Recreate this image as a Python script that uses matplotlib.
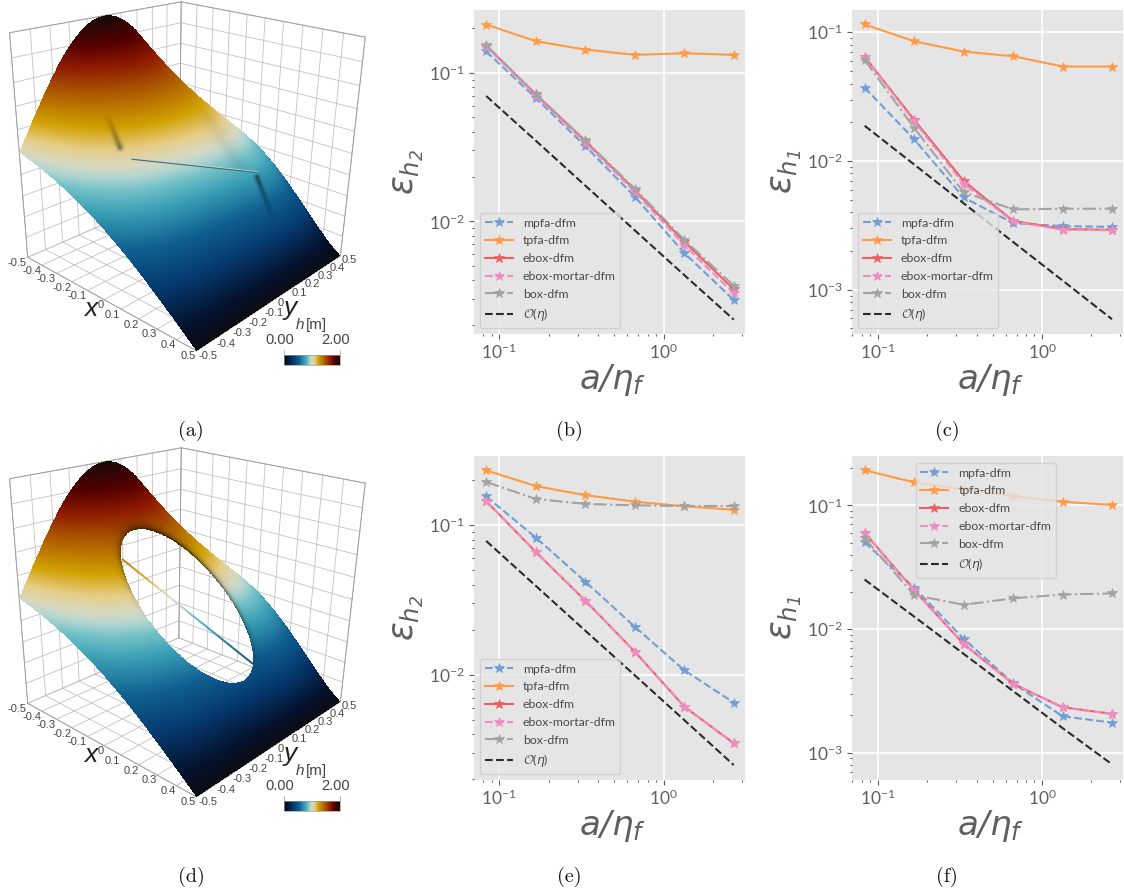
import numpy as np
import matplotlib
matplotlib.use("Agg")
import matplotlib.pyplot as plt
from matplotlib.colors import LinearSegmentedColormap
from matplotlib.collections import LineCollection
from matplotlib.ticker import LogLocator, NullFormatter

W, H = 1124, 893
plt.rcParams.update({
    "font.family": ["Lato", "DejaVu Sans"],
    "mathtext.fontset": "custom",
    "mathtext.rm": "DejaVu Sans:italic",
    "mathtext.it": "DejaVu Sans:italic",
    "mathtext.cal": "cmsy10",
    "mathtext.fallback": "cm",
    "axes.unicode_minus": True,
})

# ---------------- data ----------------
ratio = [0.0833, 0.1667, 0.3333, 0.6667, 1.3333, 2.6667]
methods = ["mpfa-dfm", "tpfa-dfm", "ebox-dfm", "ebox-mortar-dfm", "box-dfm"]
order_label = r"$\mathcal{O}\mathdefault{(}\eta\mathdefault{)}$"

b_mpfa = [0.139, 0.0676, 0.0321, 0.01466, 0.00612, 0.00296]
b_tpfa = [0.211, 0.163, 0.143, 0.132, 0.135, 0.132]
b_ebox = [0.152, 0.0715, 0.0347, 0.01626, 0.00729, 0.00349]
b_mortar = [0.150, 0.0700, 0.0338, 0.0158, 0.0069, 0.00328]
b_box = [0.153, 0.0718, 0.0351, 0.0166, 0.0075, 0.00369]
b_order = [0.0697, 0.0349, 0.0174, 0.0087, 0.00435, 0.00218]

c_mpfa = [0.0372, 0.01476, 0.00521, 0.00329, 0.00312, 0.00308]
c_tpfa = [0.115, 0.0852, 0.0708, 0.0652, 0.0542, 0.0542]
c_ebox = [0.0647, 0.0209, 0.00701, 0.00343, 0.00296, 0.00292]
c_mortar = [0.0640, 0.0203, 0.00666, 0.00339, 0.00292, 0.0029]
c_box = [0.0610, 0.0181, 0.00573, 0.00421, 0.00426, 0.00426]
c_order = [0.0188, 0.0094, 0.0047, 0.00235, 0.00118, 0.00059]

e_mpfa = [0.156, 0.0827, 0.042, 0.0209, 0.0107, 0.00649]
e_tpfa = [0.233, 0.183, 0.159, 0.144, 0.134, 0.127]
e_ebox = [0.145, 0.0663, 0.0313, 0.01426, 0.00611, 0.00347]
e_mortar = [0.145, 0.0663, 0.0313, 0.01426, 0.00611, 0.00347]
e_box = [0.195, 0.150, 0.139, 0.136, 0.1346, 0.1346]
e_order = [0.0785, 0.0393, 0.0197, 0.0099, 0.00496, 0.00248]

f_mpfa = [0.0502, 0.0216, 0.00835, 0.00364, 0.00197, 0.00175]
f_tpfa = [0.192, 0.1535, 0.1345, 0.1189, 0.107, 0.1006]
f_ebox = [0.0601, 0.0206, 0.00757, 0.00361, 0.00233, 0.00206]
f_mortar = [0.0595, 0.0205, 0.00752, 0.00361, 0.00232, 0.00205]
f_box = [0.0541, 0.0188, 0.0157, 0.0177, 0.019, 0.0194]
f_order = [0.0251, 0.0126, 0.0063, 0.00315, 0.00158, 0.000805]

# hydraulic head at a coarse set of nodes (row: x, column: y)
node_x = [-0.5, -0.25, 0.0, 0.25, 0.5]
node_y = [-0.5, -0.25, 0.0, 0.25, 0.5]
node_h = [[1.00, 1.70, 2.00, 1.70, 1.00],
          [0.87, 1.30, 1.50, 1.38, 0.95],
          [0.66, 0.92, 1.02, 1.02, 0.80],
          [0.36, 0.50, 0.55, 0.58, 0.42],
          [0.00, 0.00, 0.00, 0.00, 0.00]]

axis_ticks = [-0.5, -0.4, -0.3, -0.2, -0.1, 0, 0.1, 0.2, 0.3, 0.4, 0.5]

cmap_stops = [(0.00, "#0b0b12"), (0.06, "#04122e"), (0.17, "#053a70"), (0.27, "#0f5f90"),
              (0.37, "#3a9fb5"), (0.43, "#72c0c6"), (0.47, "#b5d6d0"), (0.50, "#d6d8c0"),
              (0.55, "#e6cd88"), (0.62, "#d0a000"), (0.72, "#b06000"), (0.82, "#901c00"),
              (0.90, "#560000"), (1.00, "#150a08")]

colors = {"mpfa-dfm": "#6f9fd4", "tpfa-dfm": "#ff9a45", "ebox-dfm": "#ee5f5f",
          "ebox-mortar-dfm": "#f08cc4", "box-dfm": "#a3a3a3"}
styles = {"mpfa-dfm": "--", "tpfa-dfm": "-", "ebox-dfm": "-",
          "ebox-mortar-dfm": "--", "box-dfm": "-."}
GREY = "#5f5f5f"

fig = plt.figure(figsize=(W / 100, H / 100), dpi=100, facecolor="white")

# ---------------- full-figure pixel axes for surfaces and captions ----------------
canvas = fig.add_axes([0, 0, 1, 1])
canvas.set_xlim(0, W)
canvas.set_ylim(H, 0)
canvas.axis("off")

cube_3d = np.array([[-.5, -.5, 0], [.5, -.5, 0], [.5, .5, 0], [-.5, .5, 0],
                    [-.5, -.5, 2], [-.5, .5, 2], [.5, .5, 2]], float)
cube_px = np.array([[27.3, 256.7], [197.3, 351.0], [340.0, 256.0], [179.0, 192.0],
                    [9.3, 33.3], [181.7, 1.7], [365.0, 36.7]])


def fit_camera(p3, p2):
    rows, rhs = [], []
    for (x, y, z), (u, v) in zip(p3, p2):
        rows.append([x, y, z, 1, 0, 0, 0, 0, -u * x, -u * y, -u * z])
        rows.append([0, 0, 0, 0, x, y, z, 1, -v * x, -v * y, -v * z])
        rhs += [u, v]
    s = np.linalg.lstsq(np.array(rows), np.array(rhs), rcond=None)[0]
    return np.append(s, 1).reshape(3, 4)


CAM = fit_camera(cube_3d, cube_px)


def project(x, y, z, dy=0.0):
    x, y, z = np.broadcast_arrays(np.asarray(x, float), np.asarray(y, float), np.asarray(z, float))
    w = CAM[2, 0] * x + CAM[2, 1] * y + CAM[2, 2] * z + CAM[2, 3]
    u = (CAM[0, 0] * x + CAM[0, 1] * y + CAM[0, 2] * z + CAM[0, 3]) / w
    v = (CAM[1, 0] * x + CAM[1, 1] * y + CAM[1, 2] * z + CAM[1, 3]) / w
    return u, v + dy


def node_surface(xs, ys):
    nx, ny = np.array(node_x), np.array(node_y)
    A = np.array([[nx[i] ** p * ny[j] ** q for p in range(5) for q in range(5)]
                  for i in range(5) for j in range(5)])
    c = np.linalg.lstsq(A, np.array(node_h).ravel(), rcond=None)[0].reshape(5, 5)
    out = np.zeros_like(xs)
    for p in range(5):
        for q in range(5):
            out += c[p, q] * xs ** p * ys ** q
    return out


cmap = LinearSegmentedColormap.from_list("head", cmap_stops, N=512)


def seg_dist(u, v, p, q):
    p, q = np.array(p, float), np.array(q, float)
    d = q - p
    t = np.clip(((u - p[0]) * d[0] + (v - p[1]) * d[1]) / (d @ d), 0, 1)
    return np.hypot(u - p[0] - t * d[0], v - p[1] - t * d[1]), t


def crease(u, v, p, q, strength, width, fade_to_q):
    dist, t = seg_dist(u, v, p, q)
    taper = (1 - t) if fade_to_q else t
    return 1 - strength * (0.15 + 0.85 * taper) * np.exp(-(dist / width) ** 2)


def draw_surface(dy, hole):
    n = 520
    xe = np.linspace(-.5, .5, n + 1)
    ye = np.linspace(.5, -.5, n + 1)
    XE, YE = np.meshgrid(xe, ye, indexing="ij")
    HE = node_surface(XE, YE)
    U, V = project(XE, YE, HE, dy)
    XC = .25 * (XE[:-1, :-1] + XE[1:, :-1] + XE[:-1, 1:] + XE[1:, 1:])
    YC = .25 * (YE[:-1, :-1] + YE[1:, :-1] + YE[:-1, 1:] + YE[1:, 1:])
    HC = node_surface(XC, YC)
    UC, VC = project(XC, YC, HC, 0.0)
    rgba = cmap(np.clip(HC / 2, 0, 1))
    shade = np.ones_like(HC)
    if hole:
        sxx, syy, sxy = 39601 / 9, 53361 / 9, 32000 / 9
        det = sxx * syy - sxy ** 2
        du, dv = UC - 187.0, VC - 160.0
        r = np.sqrt((syy * du * du - 2 * sxy * du * dv + sxx * dv * dv) / det)
        rn = np.maximum(r, 1e-6)
        side = np.clip((du * 0.72 - dv * 0.69) / (rn * 47), 0, 1)
        shade *= 1 - 0.7 * side * np.exp(-np.maximum(r - 1, 0) / 0.05)
        top = np.clip((-dv * 0.9 - du * 0.4) / (rn * 70), 0, 1)
        shade *= 1 - 0.4 * top * np.exp(-np.maximum(r - 1, 0) / 0.05)
        rgba[..., 3] = (r > 1).astype(float)
    else:
        shade *= crease(UC, VC, (120, 148), (108, 118), 0.42, 3.0, True)
        shade *= crease(UC, VC, (257, 177), (272, 217), 0.5, 2.6, True)
        shade *= 1 - 0.06 * np.exp(-(seg_dist(UC, VC, (210, 120), (238, 165))[0] / 7.0) ** 2)
    rgba[..., :3] *= shade[..., None]
    canvas.pcolormesh(U, V, rgba, shading="flat", antialiased=False, rasterized=True, zorder=2)
    if hole:
        s = np.linspace(0, 1, 120)
        su, sv = 122 + 131 * s, 113 + dy + 105 * s
        hv = 1.4 - 1.05 * s
        pts = np.column_stack([su, sv]).reshape(-1, 1, 2)
        lc = LineCollection(np.concatenate([pts[:-1], pts[1:]], axis=1),
                            colors=cmap(hv[:-1] / 2), linewidths=1.4, zorder=1.8)
        canvas.add_collection(lc)
    else:
        canvas.plot([132, 257], [158.3 + dy, 171.7 + dy], color="#bcd8d4", lw=0.8, zorder=3)
        canvas.plot([132, 257], [159.3 + dy, 172.5 + dy], color="#52666c", lw=0.8, zorder=3)


def draw_box(dy):
    t = np.array(axis_ticks)
    z_levels = np.arange(0, 2.01, 0.2)
    grid = dict(color="#bdbdbd", lw=0.55, zorder=1)
    edge = dict(color="#a0a0a0", lw=0.7, zorder=1.2)
    for v in t:
        canvas.plot(*project([v, v], [-.5, .5], [0, 0], dy), **grid)
        canvas.plot(*project([-.5, .5], [v, v], [0, 0], dy), **grid)
        canvas.plot(*project([-.5, -.5], [v, v], [0, 2], dy), **grid)
        canvas.plot(*project([v, v], [.5, .5], [0, 2], dy), **grid)
    for z in z_levels:
        canvas.plot(*project([-.5, -.5], [-.5, .5], [z, z], dy), **grid)
        canvas.plot(*project([-.5, .5], [.5, .5], [z, z], dy), **grid)
    canvas.plot(*project([-.5, .5, .5], [-.5, -.5, .5], [0, 0, 0], dy), **edge)
    canvas.plot(*project([-.5, -.5, -.5, .5, .5], [-.5, -.5, .5, .5, .5], [0, 2, 2, 2, 0], dy), **edge)
    canvas.plot(*project([-.5, -.5], [.5, .5], [0, 2], dy), **edge)


xlab_px = [(17, 263), (32, 271), (46, 279), (62, 288), (77, 296), (101, 305),
           (112, 315), (131, 325), (149, 334), (168, 345), (188, 356)]
ylab_px = [(208, 356), (226, 344), (242, 333), (258, 323), (274, 313), (280.5, 303),
           (299, 293), (312, 284), (325, 276), (337, 268), (349, 260)]
tick_txt = ["-0.5", "-0.4", "-0.3", "-0.2", "-0.1", "0", "0.1", "0.2", "0.3", "0.4", "0.5"]


def draw_labels(dy):
    txt = dict(ha="center", va="center", color="#444444", fontsize=8,
               family=["Liberation Sans"], zorder=5)
    for s, (u, v) in zip(tick_txt, xlab_px):
        canvas.text(u, v + dy, s, **txt)
    for s, (u, v) in zip(tick_txt, ylab_px):
        canvas.text(u, v + dy, s, **txt)
    big = dict(ha="center", va="center", color="#222222", fontsize=19, style="italic",
               family=["Liberation Sans"], zorder=5)
    canvas.text(91, 309 + dy, "x", **big)
    canvas.text(290, 308 + dy, "y", **big)
    canvas.text(300.5, 325 + dy, "h", ha="center", va="center", color="#444444", style="italic",
                fontsize=11, family=["Liberation Sans"], zorder=5)
    canvas.text(316, 325 + dy, "[m]", ha="center", va="center", color="#444444",
                fontsize=11, family=["Liberation Sans"], zorder=5)
    for s, u in zip(["0.00", "2.00"], [280, 336]):
        canvas.text(u, 339.5 + dy, s, ha="center", va="center", color="#444444",
                    fontsize=10.5, family=["Liberation Sans"], zorder=5)
    xb = np.linspace(284, 340, 257)
    yb = np.array([354.5 + dy, 365 + dy])
    grad = cmap(np.linspace(0, 1, 256))[None, :, :]
    canvas.pcolormesh(xb, yb, grad, shading="flat", zorder=5)
    canvas.plot([284, 340, 340, 284, 284], [354.5 + dy, 354.5 + dy, 365 + dy, 365 + dy, 354.5 + dy],
                color="#999999", lw=0.5, zorder=6)
    for u in (284, 340):
        canvas.plot([u, u], [349.5 + dy, 354.5 + dy], color="#999999", lw=0.5, zorder=6)


for dy, hole in [(0.0, False), (446.0, True)]:
    draw_box(dy)
    draw_surface(dy, hole)
    draw_labels(dy)

for s, u, v in [("(a)", 191, 431), ("(b)", 569, 431), ("(c)", 947, 431),
                ("(d)", 191, 877), ("(e)", 569, 877), ("(f)", 947, 877)]:
    canvas.text(u, v, s, ha="center", va="center", fontsize=14.5, color="#111111",
                family=["cmr10", "DejaVu Serif"], zorder=5)


# ---------------- convergence plots ----------------
def panel(box, xlim, ylim, series, order, ylabel, legend_box):
    l, t, r, b = box
    ax = fig.add_axes([l / W, 1 - b / H, (r - l) / W, (b - t) / H], facecolor="#E5E5E5")
    ax.set_xscale("log")
    ax.set_yscale("log")
    for name, vals in zip(methods, series):
        ax.plot(ratio, vals, ls=styles[name], color=colors[name], marker="*", ms=7,
                lw=1.5, label=name, markeredgewidth=0.5, zorder=3)
    ax.plot(ratio, order, ls="--", color="#2b2b2b", lw=1.5, label=order_label, zorder=3)
    ax.set_xlim(*xlim)
    ax.set_ylim(*ylim)
    ax.grid(True, which="major", color="white", lw=1.2)
    ax.set_axisbelow(True)
    for sp in ax.spines.values():
        sp.set_visible(False)
    for axis in (ax.xaxis, ax.yaxis):
        axis.set_minor_locator(LogLocator(base=10, subs=[2, 3, 4, 5, 6, 7, 8, 9], numticks=30))
        axis.set_minor_formatter(NullFormatter())
    ax.tick_params(which="major", labelsize=12.5, labelcolor=GREY, color=GREY, length=3.5, width=0.8, pad=3)
    ax.tick_params(which="minor", color=GREY, length=1.5, width=0.8)
    ax.set_xlabel(r"$a/\eta_f$", fontsize=24.5, color=GREY, labelpad=0, x=0.51)
    ax.set_ylabel(ylabel, fontsize=25, color=GREY, labelpad=2)
    leg = ax.legend(loc="lower left", bbox_to_anchor=legend_box, bbox_transform=fig.transFigure,
                    fontsize=8.85, handlelength=2.28, handletextpad=0.81, labelspacing=0.55,
                    framealpha=0.8, facecolor="#E5E5E5", edgecolor="#CCCCCC",
                    borderpad=0.38, borderaxespad=0, fancybox=True)
    for tx in leg.get_texts():
        tx.set_color("#4a4a4a")
    return ax


def leg_anchor(x, y_bottom):
    return (x / W, 1 - y_bottom / H)


panel((474, 10, 745, 334), (0.0702, 3.12), (0.001746, 0.2642),
      [b_mpfa, b_tpfa, b_ebox, b_mortar, b_box], b_order, r"$\varepsilon_{h_2}$", leg_anchor(480, 328))
panel((852, 10, 1123, 334), (0.0698, 3.11), (0.000453, 0.149),
      [c_mpfa, c_tpfa, c_ebox, c_mortar, c_box], c_order, r"$\varepsilon_{h_1}$", leg_anchor(858, 328))
panel((474, 456, 745, 780), (0.0702, 3.12), (0.00197, 0.291),
      [e_mpfa, e_tpfa, e_ebox, e_mortar, e_box], e_order, r"$\varepsilon_{h_2}$", leg_anchor(480, 774))
panel((852, 456, 1123, 780), (0.0698, 3.11), (0.000601, 0.2506),
      [f_mpfa, f_tpfa, f_ebox, f_mortar, f_box], f_order, r"$\varepsilon_{h_1}$", leg_anchor(915.7, 578))

fig.savefig("out.png", dpi=100)
